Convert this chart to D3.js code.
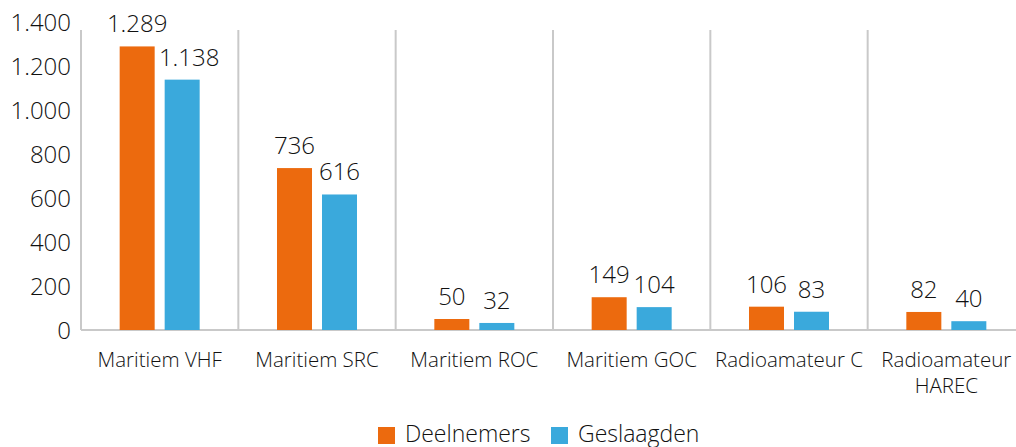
<!DOCTYPE html>
<html>
<head>
<meta charset="utf-8">
<script src="https://cdn.jsdelivr.net/npm/d3@7"></script>
<style>
  body { margin: 0; background: #fff; }
  text { font-family: "Open Sans", Lato, sans-serif; font-weight: 300; fill: #111; }
</style>
</head>
<body>
<svg id="chart" width="1016" height="447"></svg>
<script>
// data
var categories = ["Maritiem VHF", "Maritiem SRC", "Maritiem ROC", "Maritiem GOC", "Radioamateur C", "Radioamateur|HAREC"];
var deelnemers = [1289, 736, 50, 149, 106, 82];
var geslaagden = [1138, 616, 32, 104, 83, 40];
var seriesNames = ["Deelnemers", "Geslaagden"];
var yTicks = [0, 200, 400, 600, 800, 1000, 1200, 1400];

var colors = ["#ec6a0e", "#3aa9dc"];
var fmt = function(v){ return d3.format(",")(v).replace(/,/g, "."); };

var svg = d3.select("#chart");
var margin = {left: 81, right: -9, top: 22, bottom: 117};
var W = 1016, H = 447;
var plotW = W - margin.left - margin.right;
var plotH = H - margin.top - margin.bottom;

var g = svg.append("g").attr("transform", "translate(" + margin.left + "," + margin.top + ")");

var x = d3.scaleBand().domain(categories).range([0, plotW]);
var y = d3.scaleLinear().domain([0, 1400]).range([plotH, 0]);

// vertical dividers between categories
g.selectAll("line.div")
  .data(categories)
  .enter().append("line")
  .attr("class", "div")
  .attr("x1", function(d){ return x(d); })
  .attr("x2", function(d){ return x(d); })
  .attr("y1", y(1400) + 8)
  .attr("y2", plotH)
  .attr("stroke", "#c9c9c9")
  .attr("stroke-width", 2);

// baseline
g.append("line")
  .attr("x1", 0).attr("x2", plotW)
  .attr("y1", y(0)).attr("y2", y(0))
  .attr("stroke", "#c9c9c9")
  .attr("stroke-width", 2);

// y axis labels
var yAxis = d3.axisLeft(y).tickValues(yTicks).tickSize(0).tickPadding(10).tickFormat(fmt);
var ya = g.append("g").call(yAxis);
ya.select(".domain").remove();
ya.selectAll("text")
  .style("font-size", "24px")
  .style("font-family", "'Open Sans', sans-serif")
  .attr("fill", "#111").attr("dy", "0.35em");

var barW = 35, gap = 10;
var series = [deelnemers, geslaagden];

series.forEach(function(vals, s){
  var off = s === 0 ? -gap / 2 - barW : gap / 2;
  var data = categories.map(function(c, i){ return {c: c, v: vals[i]}; });
  g.selectAll("rect.s" + s)
    .data(data)
    .enter().append("rect")
    .attr("class", "s" + s)
    .attr("x", function(d){ return x(d.c) + x.bandwidth() / 2 + off; })
    .attr("width", barW)
    .attr("y", function(d){ return y(d.v); })
    .attr("height", function(d){ return y(0) - y(d.v); })
    .attr("fill", colors[s]);
  g.selectAll("text.l" + s)
    .data(data)
    .enter().append("text")
    .attr("class", "l" + s)
    // the big second label sits a little to the right so it clears the first one
    .attr("x", function(d){ return x(d.c) + x.bandwidth() / 2 + off + barW / 2 + (d.v >= 1000 && s === 1 ? 7 : 0); })
    .attr("y", function(d){ return y(d.v) - 14; })
    .attr("text-anchor", "middle")
    .style("font-size", "24px")
    .text(function(d){ return fmt(d.v); });
});

// category labels
var cat = g.selectAll("text.cat")
  .data(categories)
  .enter().append("text")
  .attr("class", "cat")
  .attr("text-anchor", "middle")
  .attr("x", function(d){ return x(d) + x.bandwidth() / 2; })
  .attr("y", plotH + 37)
  .style("font-size", "20.5px");
cat.each(function(d){
  var t = d3.select(this);
  d.split("|").forEach(function(part, i){
    t.append("tspan")
      .attr("x", t.attr("x"))
      .attr("dy", i === 0 ? 0 : 26)
      .text(part);
  });
});

// legend
var leg = svg.append("g").attr("transform", "translate(378,426)");
var lx = [0, 173];
seriesNames.forEach(function(n, i){
  leg.append("rect").attr("x", lx[i]).attr("y", 1).attr("width", 17).attr("height", 17).attr("fill", colors[i]);
  leg.append("text").attr("x", lx[i] + 27).attr("y", 16).style("font-size", "23px").text(n);
});
</script>
</body>
</html>
